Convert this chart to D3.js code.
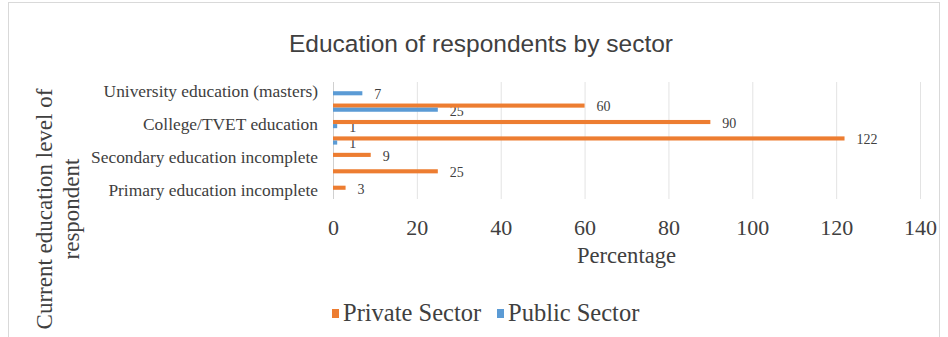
<!DOCTYPE html>
<html>
<head>
<meta charset="utf-8">
<script src="https://cdn.jsdelivr.net/npm/d3@7/dist/d3.min.js"></script>
<style>
  html, body { margin: 0; padding: 0; background: #ffffff; }
  svg { display: block; }
</style>
</head>
<body>
<svg id="chart" width="948" height="337"></svg>
<script>
// Education levels, listed top to bottom as they appear on the chart
const categories = [
  "University education (masters)",
  "University education (degree)",
  "College/TVET education",
  "Secondary education complete",
  "Secondary education incomplete",
  "Primary education complete",
  "Primary education incomplete"
];
const seriesNames = ["Private Sector", "Public Sector"];
const privateSector = [0, 60, 90, 122, 9, 25, 3];
const publicSector = [7, 25, 1, 1, 0, 0, 0];
const xTicks = [0, 20, 40, 60, 80, 100, 120, 140];

const colors = { "Private Sector": "#ED7D31", "Public Sector": "#5B9BD5" };
const serif = "'Liberation Serif', 'Times New Roman', serif";
const sans = "'Liberation Sans', Arial, sans-serif";
const textColor = "#404040";

const svg = d3.select("#chart");

// Chart frame
svg.append("rect")
  .attr("x", 8.5).attr("y", 2.5)
  .attr("width", 931).attr("height", 340)
  .attr("fill", "none").attr("stroke", "#d9d9d9");

// Scales
const x = d3.scaleLinear().domain([0, 140]).range([333, 920]);
const y = d3.scaleBand().domain(categories).range([83, 198]).paddingInner(0).paddingOuter(0);
const sub = d3.scaleBand().domain(seriesNames)
  .range([y.bandwidth() * 0.25, y.bandwidth() * 0.75]);

// Vertical gridlines
svg.append("g")
  .selectAll("line")
  .data(xTicks.slice(1))
  .join("line")
  .attr("x1", d => x(d) + 0.5).attr("x2", d => x(d) + 0.5)
  .attr("y1", 82).attr("y2", 199)
  .attr("stroke", "#e3e3e3").attr("stroke-width", 1);

// Category axis line
svg.append("line")
  .attr("x1", x(0) + 0.5).attr("x2", x(0) + 0.5)
  .attr("y1", 82).attr("y2", 199)
  .attr("stroke", "#d0d0d0");

// Category labels (every other one, as the axis has room for)
const yAxis = d3.axisLeft(y)
  .tickSize(0).tickPadding(15)
  .tickFormat((d, i) => (i % 2 === 0 ? d : ""));
const yg = svg.append("g").attr("transform", `translate(${x(0)},0)`).call(yAxis);
yg.select(".domain").remove();
yg.selectAll("text")
  .attr("font-family", serif).attr("font-size", 17.4)
  .attr("fill", textColor).attr("dy", "0.35em");

// Value axis tick labels
const xAxis = d3.axisBottom(x).tickValues(xTicks).tickSize(0).tickPadding(0)
  .tickFormat(d3.format("d"));
const xg = svg.append("g").attr("transform", "translate(0,235)").call(xAxis);
xg.select(".domain").remove();
xg.selectAll("text")
  .attr("font-family", serif).attr("font-size", 22)
  .attr("fill", textColor).attr("dy", 0).attr("y", 0);

// Rows of bar records built from the series arrays
const rows = categories.map((c, i) => ({
  category: c,
  values: [
    { series: "Private Sector", value: privateSector[i] },
    { series: "Public Sector", value: publicSector[i] }
  ]
}));

const groups = svg.append("g").selectAll("g")
  .data(rows)
  .join("g")
  .attr("transform", d => `translate(0,${y(d.category)})`);

const barData = d => d.values.filter(v => v.value > 0);

// Data labels
groups.selectAll("text.value")
  .data(barData)
  .join("text")
  .attr("class", "value")
  .attr("x", d => x(d.value) + 12)
  .attr("y", d => sub(d.series) + sub.bandwidth() / 2 + 1)
  .attr("dy", "0.35em")
  .attr("font-family", serif).attr("font-size", 14)
  .attr("fill", textColor)
  .text(d => d.value);

// Bars
groups.selectAll("rect")
  .data(barData)
  .join("rect")
  .attr("x", x(0))
  .attr("y", d => sub(d.series))
  .attr("width", d => x(d.value) - x(0))
  .attr("height", sub.bandwidth())
  .attr("fill", d => colors[d.series]);

// Chart title
svg.append("text")
  .attr("x", 481).attr("y", 52)
  .attr("text-anchor", "middle")
  .attr("font-family", sans).attr("font-size", 24.5)
  .attr("fill", "#404040")
  .text("Education of respondents by sector");

// Value axis title
svg.append("text")
  .attr("x", (x(0) + x(140)) / 2).attr("y", 263)
  .attr("text-anchor", "middle")
  .attr("font-family", serif).attr("font-size", 22.6)
  .attr("fill", textColor)
  .text("Percentage");

// Category axis title, wrapped on two lines
const yTitle = svg.append("text")
  .attr("transform", "translate(0,209) rotate(-90)")
  .attr("text-anchor", "middle")
  .attr("font-family", serif).attr("font-size", 23)
  .attr("fill", textColor);
yTitle.append("tspan").attr("x", 0).attr("y", 52).text("Current education level of");
yTitle.append("tspan").attr("x", 0).attr("y", 79).text("respondent");

// Legend
const legendItems = [
  { name: "Private Sector", x: 332 },
  { name: "Public Sector", x: 497 }
];
const legend = svg.append("g").selectAll("g")
  .data(legendItems)
  .join("g")
  .attr("transform", d => `translate(${d.x},309)`);
legend.append("rect")
  .attr("width", 7).attr("height", 9)
  .attr("fill", d => colors[d.name]);
legend.append("text")
  .attr("x", 11).attr("y", 12)
  .attr("font-family", serif).attr("font-size", 24.5)
  .attr("fill", textColor)
  .text(d => d.name);
</script>
</body>
</html>
